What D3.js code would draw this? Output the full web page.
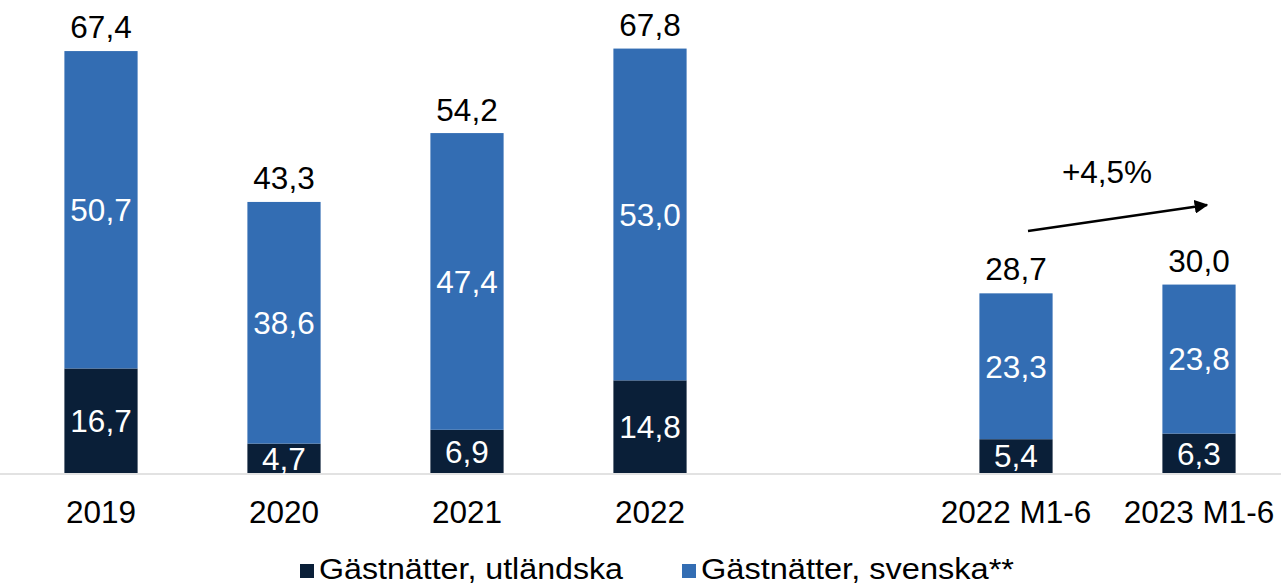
<!DOCTYPE html>
<html><head><meta charset="utf-8">
<script src="https://cdn.jsdelivr.net/npm/d3@7"></script>
<style>body{margin:0;background:#fff}svg{display:block}</style>
</head><body>
<svg id="c" width="1281" height="585"></svg>
<script>
const categories = ["2019", "2020", "2021", "2022", "", "2022 M1-6", "2023 M1-6"];
const foreign = [16.7, 4.7, 6.9, 14.8, null, 5.4, 6.3];
const swedish = [50.7, 38.6, 47.4, 53.0, null, 23.3, 23.8];
const totals = [67.4, 43.3, 54.2, 67.8, null, 28.7, 30.0];
const seriesNames = ["Gästnätter, utländska", "Gästnätter, svenska**"];
const colors = ["#0a1f38", "#336db3"];
const growthLabel = "+4,5%";

const svg = d3.select("#c");
const font = "Liberation Sans, Arial, sans-serif";
const fs = 31.5;
const x = d3.scaleBand().domain(categories).range([9.5, 1290.5]).paddingInner(0.6).paddingOuter(0.3);
const y = d3.scaleLinear().domain([0, 75]).range([473, 473 - 75 * 6.26]);
const fmt = v => v.toFixed(1).replace(".", ",");

const data = categories.map((c, i) => ({c, f: foreign[i], s: swedish[i], t: totals[i]})).filter(d => d.c !== "");

// baseline
svg.append("line").attr("x1", 0).attr("x2", 1281).attr("y1", y(0) + 1).attr("y2", y(0) + 1)
  .attr("stroke", "#d9d9d9").attr("stroke-width", 1.5);

const g = svg.append("g");
data.forEach(d => {
  const x0 = x(d.c), w = x.bandwidth();
  g.append("rect").attr("x", x0).attr("width", w).attr("y", y(d.f)).attr("height", y(0) - y(d.f)).attr("fill", colors[0]);
  g.append("rect").attr("x", x0).attr("width", w).attr("y", y(d.f + d.s)).attr("height", y(d.f) - y(d.f + d.s)).attr("fill", colors[1]);
  const cx = x0 + w / 2;
  g.append("text").attr("x", cx).attr("y", (y(0) + y(d.f)) / 2).attr("dy", "0.36em").attr("text-anchor", "middle")
    .attr("fill", "#fff").attr("font-family", font).attr("font-size", fs).text(fmt(d.f));
  g.append("text").attr("x", cx).attr("y", (y(d.f) + y(d.f + d.s)) / 2).attr("dy", "0.36em").attr("text-anchor", "middle")
    .attr("fill", "#fff").attr("font-family", font).attr("font-size", fs).text(fmt(d.s));
  g.append("text").attr("x", cx).attr("y", y(d.t) - 13).attr("text-anchor", "middle")
    .attr("fill", "#000").attr("font-family", font).attr("font-size", fs).text(fmt(d.t));
  g.append("text").attr("x", cx).attr("y", 523).attr("text-anchor", "middle")
    .attr("fill", "#000").attr("font-family", font).attr("font-size", fs).text(d.c);
});

// growth arrow
const defs = svg.append("defs");
defs.append("marker").attr("id", "ah").attr("viewBox", "0 0 10 10").attr("refX", 9).attr("refY", 5)
  .attr("markerWidth", 5.5).attr("markerHeight", 5.5).attr("markerUnits", "strokeWidth").attr("orient", "auto")
  .append("path").attr("d", "M0,0 L10,5 L0,10 z").attr("fill", "#000");
svg.append("line").attr("x1", 1028).attr("y1", 231).attr("x2", 1207).attr("y2", 205)
  .attr("stroke", "#000").attr("stroke-width", 2.5).attr("marker-end", "url(#ah)");
svg.append("text").attr("x", 1107).attr("y", 183).attr("text-anchor", "middle")
  .attr("font-family", font).attr("font-size", fs).text(growthLabel);

// legend
const lx = [300, 682];
const lw = [304, 313];
seriesNames.forEach((n, i) => {
  svg.append("rect").attr("x", lx[i]).attr("y", 564).attr("width", 14).attr("height", 14).attr("fill", colors[i]);
  svg.append("text").attr("x", lx[i] + 19).attr("y", 579).attr("font-family", font).attr("font-size", 30)
    .attr("textLength", lw[i]).attr("lengthAdjust", "spacingAndGlyphs").text(n);
});
</script>
</body></html>
